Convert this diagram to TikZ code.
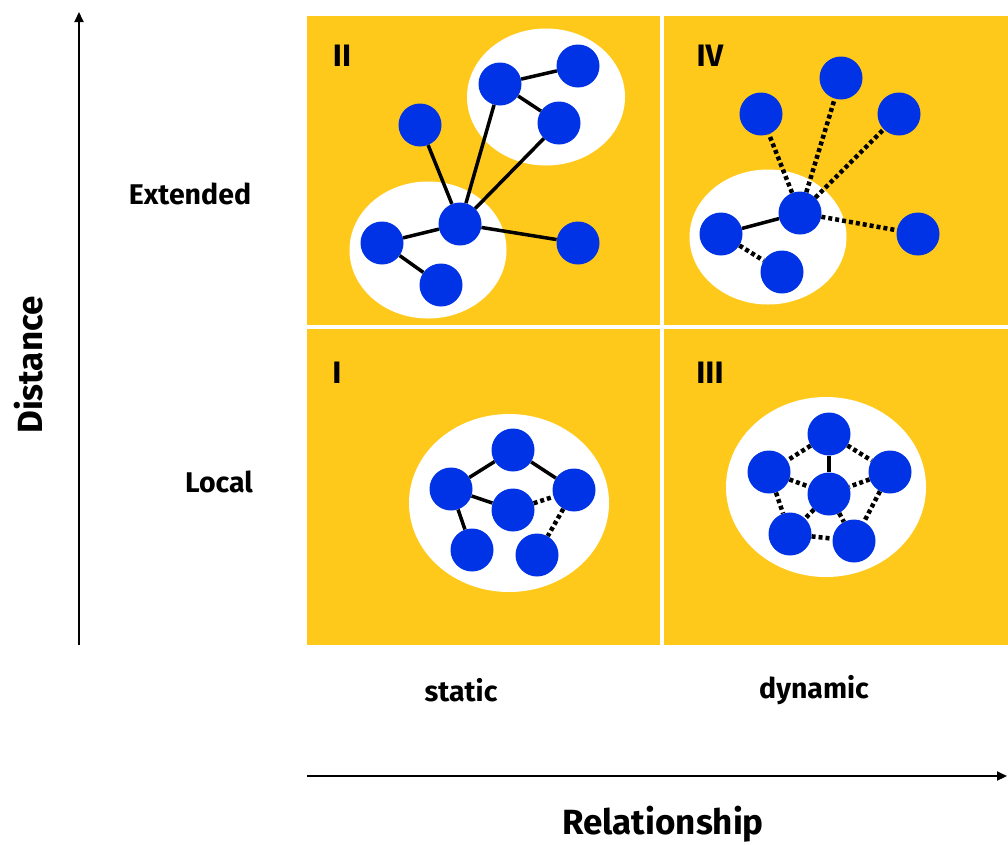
\documentclass[tikz,border=0pt]{standalone}
\usepackage{fontspec}
\setmainfont{Fira Sans}
\usetikzlibrary{arrows.meta,shapes.geometric}
\definecolor{quadyellow}{RGB}{255,201,28}
\definecolor{nodeblue}{RGB}{0,51,230}
\begin{document}
\begin{tikzpicture}[x=1pt,y=-1pt,
  person/.style={circle,fill=nodeblue,minimum size=43pt,inner sep=0pt},
  cluster/.style={ellipse,fill=white,inner sep=0pt},
  link/.style={line width=3.5pt},
  weak/.style={line width=4.5pt,dash pattern=on 4pt off 3pt},
  lab/.style={font=\bfseries\fontsize{28.5}{32}\selectfont},
  title/.style={font=\bfseries\fontsize{35}{38}\selectfont},
  quad/.style={font=\bfseries\fontsize{31}{34}\selectfont},
  axis/.style={line width=2pt,-{Triangle[length=10pt,width=9pt]}}]
\useasboundingbox (0,0) rectangle (1008,844);
% background quadrants
\fill[quadyellow] (307,16) rectangle (1008,645);
\fill[white] (659.5,16) rectangle (663.5,645);
\fill[white] (307,325) rectangle (1008,329);
% axes
\coordinate (ybot) at (79,645);
\coordinate (ytop) at (79,12);
\coordinate (xl) at (307,776);
\coordinate (xr) at (1007,776);
\draw[axis] (ybot) -- (ytop);
\draw[axis] (xl) -- (xr);
\node[lab] (ext) at (190,194) {Extended};
\node[lab] (loc) at (219,482) {Local};
\node[lab] (sta) at (461,690) {static};
\node[lab] (dyn) at (814,690) {dynamic};
\node[title,rotate=90] (dist) at (29,365) {Distance};
\node[title,anchor=base] (rel) at (663,834) {Relationship};
% quadrant labels
\node[quad] (qII) at (342,56) {II};
\node[quad] (qIV) at (710,56) {IV};
\node[quad] (qI) at (337,373) {I};
\node[quad] (qIII) at (710,373) {III};
% ---- Quadrant II
\node[cluster,minimum width=158pt,minimum height=137pt] (c2a) at (546,97) {};
\node[cluster,minimum width=157pt,minimum height=137pt] (c2b) at (428,250) {};
\node[person] (a2) at (578,66) {};
\node[person] (b2) at (500,84) {};
\node[person] (c2) at (559,123) {};
\node[person] (d2) at (420,125) {};
\node[person] (e2) at (460,224) {};
\node[person] (f2) at (382,243) {};
\node[person] (g2) at (441,285) {};
\node[person] (h2) at (578,243) {};
\draw[link] (b2) -- (a2);
\draw[link] (b2) -- (c2);
\draw[link] (b2) -- (e2);
\draw[link] (c2) -- (e2);
\draw[link] (d2) -- (e2);
\draw[link] (e2) -- (f2);
\draw[link] (f2) -- (g2);
\draw[link] (e2) -- (h2);
% ---- Quadrant IV
\node[cluster,minimum width=157pt,minimum height=135pt] (c4) at (768,237) {};
\node[person] (hub4) at (800,213) {};
\node[person] (l4) at (721,234) {};
\node[person] (lo4) at (782,272) {};
\node[person] (tl4) at (761,114) {};
\node[person] (t4) at (841,78) {};
\node[person] (tr4) at (899,114) {};
\node[person] (r4) at (918,234) {};
\draw[link] (hub4) -- (l4);
\draw[weak] (l4) -- (lo4);
\draw[weak] (hub4) -- (tl4);
\draw[weak] (hub4) -- (t4);
\draw[weak] (hub4) -- (tr4);
\draw[weak] (hub4) -- (r4);
% ---- Quadrant I
\node[cluster,minimum width=200pt,minimum height=178pt] (c1) at (509,503) {};
\node[person] (t1) at (513,450) {};
\node[person] (l1) at (451,489) {};
\node[person] (r1) at (574,490) {};
\node[person] (m1) at (513,510) {};
\node[person] (bl1) at (472,550) {};
\node[person] (br1) at (537,555) {};
\draw[link] (t1) -- (l1);
\draw[link] (t1) -- (r1);
\draw[link] (l1) -- (m1);
\draw[link] (l1) -- (bl1);
\draw[weak] (m1) -- (r1);
\draw[weak] (r1) -- (br1);
% ---- Quadrant III
\node[cluster,minimum width=200pt,minimum height=180pt] (c3) at (826,487) {};
\node[person] (t3) at (829,434) {};
\node[person] (l3) at (769,472) {};
\node[person] (r3) at (890,472) {};
\node[person] (m3) at (829,494) {};
\node[person] (bl3) at (790,534) {};
\node[person] (br3) at (854,541) {};
\draw[link] (t3) -- (m3);
\draw[weak] (t3) -- (l3);
\draw[weak] (t3) -- (r3);
\draw[weak] (l3) -- (m3);
\draw[weak] (r3) -- (m3);
\draw[weak] (l3) -- (bl3);
\draw[weak] (r3) -- (br3);
\draw[weak] (m3) -- (bl3);
\draw[weak] (m3) -- (br3);
\draw[weak] (bl3) -- (br3);
\end{tikzpicture}
\end{document}
